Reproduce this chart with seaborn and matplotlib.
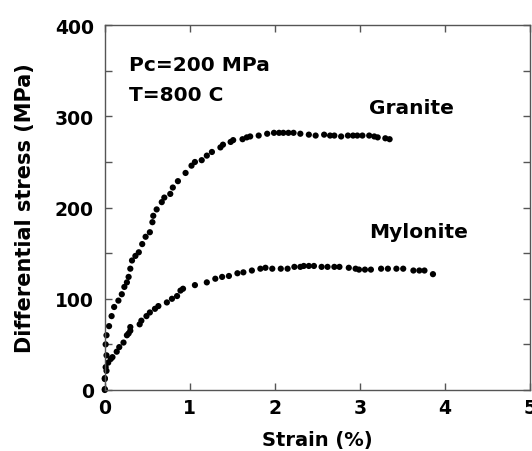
import numpy as np
import pandas as pd
import seaborn as sns
import matplotlib.pyplot as plt
from matplotlib.ticker import MultipleLocator

# strain (%) and differential stress (MPa)
granite_strain = [0.0, 0.0, 0.01, 0.02, 0.01, 0.02, 0.05, 0.08, 0.11, 0.16, 0.2, 0.23,
                  0.26, 0.28, 0.3, 0.32, 0.36, 0.4, 0.44, 0.48, 0.53, 0.56, 0.57, 0.61,
                  0.67, 0.7, 0.77, 0.8, 0.86, 0.95, 1.02, 1.06, 1.14, 1.2, 1.26, 1.36,
                  1.39, 1.48, 1.51, 1.62, 1.67, 1.71, 1.81, 1.91, 1.99, 2.05, 2.1, 2.16,
                  2.22, 2.3, 2.4, 2.48, 2.58, 2.65, 2.7, 2.78, 2.86, 2.92, 2.97, 3.03,
                  3.11, 3.17, 3.21, 3.3, 3.35]
granite_stress = [1, 12, 25, 38, 50, 60, 70, 81, 91, 98, 105, 113,
                  118, 124, 133, 142, 147, 151, 160, 168, 173, 184, 191, 198,
                  206, 211, 215, 222, 229, 238, 246, 250, 252, 257, 261, 266,
                  269, 272, 274, 275, 277, 278, 279, 281, 282, 282, 282, 282,
                  282, 281, 280, 279, 280, 279, 279, 278, 279, 279, 279, 279,
                  279, 278, 277, 276, 275]

mylonite_strain = [0.0, 0.0, 0.02, 0.04, 0.07, 0.09, 0.14, 0.17, 0.22, 0.26, 0.28, 0.3,
                   0.3, 0.41, 0.43, 0.49, 0.53, 0.59, 0.63, 0.73, 0.79, 0.85, 0.89, 0.92,
                   1.06, 1.2, 1.3, 1.38, 1.46, 1.56, 1.63, 1.73, 1.83, 1.89, 1.97, 2.07,
                   2.15, 2.23, 2.3, 2.34, 2.4, 2.46, 2.55, 2.62, 2.7, 2.76, 2.87, 2.95,
                   2.99, 3.06, 3.13, 3.25, 3.33, 3.43, 3.51, 3.63, 3.7, 3.76, 3.86]
mylonite_stress = [0, 13, 21, 30, 34, 36, 42, 47, 52, 60, 62, 65,
                   69, 72, 76, 81, 85, 89, 92, 96, 100, 103, 109, 111,
                   115, 118, 122, 124, 125, 128, 129, 131, 133, 134, 133, 133,
                   133, 135, 135, 136, 136, 136, 135, 135, 135, 135, 134, 133,
                   132, 132, 132, 133, 133, 133, 133, 131, 131, 131, 127]

df = pd.concat([
    pd.DataFrame({"strain": granite_strain, "stress": granite_stress, "rock": "Granite"}),
    pd.DataFrame({"strain": mylonite_strain, "stress": mylonite_stress, "rock": "Mylonite"}),
])

sns.set_style("ticks")
plt.rcParams["font.family"] = ["DejaVu Sans"]
plt.rcParams["font.weight"] = "bold"
plt.rcParams["text.color"] = "black"
plt.rcParams["axes.labelcolor"] = "black"
plt.rcParams["xtick.labelcolor"] = "black"
plt.rcParams["ytick.labelcolor"] = "black"

fig = plt.figure(figsize=(5.32, 4.52), dpi=100)
ax = fig.add_axes([0.197, 0.135, 0.799, 0.807])

sns.scatterplot(data=df, x="strain", y="stress", hue="rock",
                palette={"Granite": "black", "Mylonite": "black"},
                s=20, edgecolor="none", legend=False, ax=ax, clip_on=False)

ax.set_xlim(0, 5)
ax.set_ylim(0, 400)
ax.xaxis.set_major_locator(MultipleLocator(1))
ax.yaxis.set_major_locator(MultipleLocator(100))
ax.yaxis.set_minor_locator(MultipleLocator(50))
ax.tick_params(which="both", direction="in", top=True, right=True,
               color="#555555", width=1, labelsize=13.5, pad=6,
               labelcolor="black")
ax.tick_params(axis="x", which="major", length=5)
ax.tick_params(axis="y", which="both", length=5, pad=8)
for lab in ax.get_xticklabels() + ax.get_yticklabels():
    lab.set_fontweight("bold")
for sp in ax.spines.values():
    sp.set_color("#555555")
    sp.set_linewidth(1)

ax.set_xlabel("Strain (%)", fontsize=14, fontweight="bold", labelpad=9)
ax.set_ylabel("Differential stress (MPa)", fontsize=15, fontweight="bold", labelpad=14)

ax.text(0.28, 357, "Pc=200 MPa", fontsize=14.5, fontweight="bold", va="center")
ax.text(0.28, 324, "T=800 C", fontsize=14.5, fontweight="bold", va="center")
ax.text(3.11, 310, "Granite", fontsize=14.5, fontweight="bold", va="center")
ax.text(3.11, 174, "Mylonite", fontsize=14.5, fontweight="bold", va="center")

fig.savefig("out.png", dpi=100)
